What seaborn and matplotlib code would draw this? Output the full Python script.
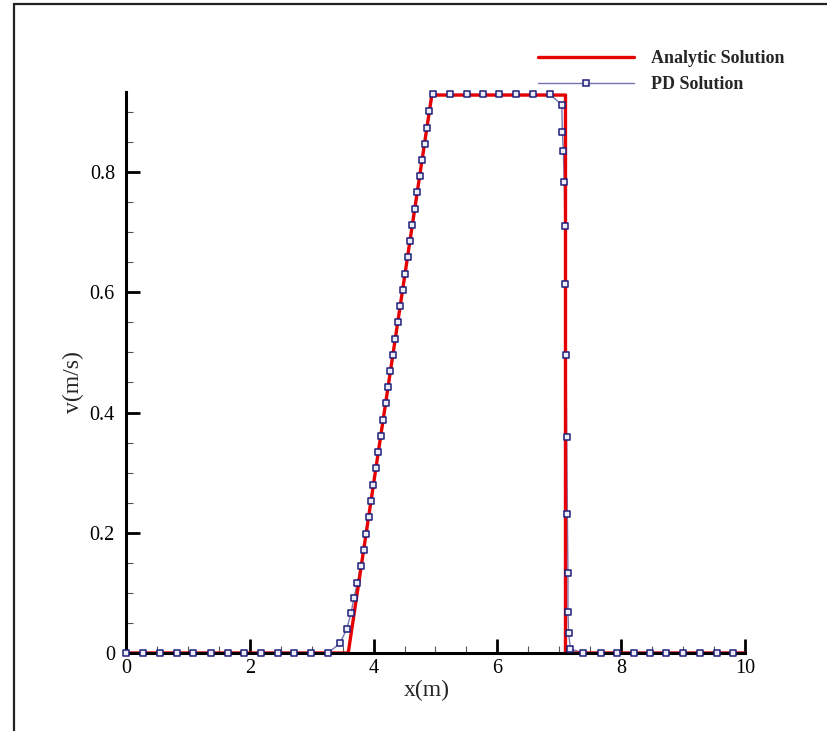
import matplotlib
matplotlib.use("Agg")
import matplotlib.pyplot as plt
from matplotlib.lines import Line2D
from matplotlib.ticker import MultipleLocator
import seaborn as sns
import pandas as pd

# Analytic velocity profile (m, m/s)
x_analytic = [0.0, 3.59, 4.94, 7.10, 7.10, 10.0]
v_analytic = [0.0, 0.0, 0.928, 0.928, 0.0, 0.0]

# Peridynamic solution, sampled points
x_pd = [0.00, 0.28, 0.55, 0.82, 1.09, 1.37, 1.64, 1.91, 2.18, 2.45, 2.72, 2.99, 3.26,
        3.457, 3.565, 3.635, 3.683, 3.737, 3.790,
        3.839, 3.878, 3.919, 3.958, 3.998, 4.037, 4.076, 4.115, 4.155, 4.194,
        4.233, 4.273, 4.312, 4.351, 4.391, 4.430, 4.469, 4.508, 4.548, 4.587,
        4.626, 4.666, 4.705, 4.744, 4.784, 4.823, 4.862, 4.902, 4.960,
        5.234, 5.504, 5.773, 6.030, 6.300, 6.570, 6.850,
        7.040, 7.050, 7.065, 7.080, 7.090, 7.100, 7.110, 7.120, 7.130, 7.140, 7.140, 7.150, 7.180,
        7.38, 7.67, 7.93, 8.20, 8.47, 8.73, 9.00, 9.27, 9.54, 9.81]
v_pd = [0.0, 0.0, 0.0, 0.0, 0.0, 0.0, 0.0, 0.0, 0.0, 0.0, 0.0, 0.0, 0.0,
        0.016, 0.040, 0.066, 0.092, 0.116, 0.144,
        0.171, 0.198, 0.226, 0.253, 0.280, 0.307, 0.334, 0.361, 0.388, 0.415,
        0.442, 0.469, 0.496, 0.523, 0.550, 0.577, 0.604, 0.631, 0.658, 0.685,
        0.712, 0.739, 0.766, 0.793, 0.820, 0.847, 0.874, 0.901, 0.929,
        0.929, 0.929, 0.929, 0.929, 0.929, 0.929, 0.929,
        0.912, 0.867, 0.835, 0.784, 0.710, 0.614, 0.496, 0.360, 0.232, 0.133, 0.069, 0.033, 0.007,
        0.0, 0.0, 0.0, 0.0, 0.0, 0.0, 0.0, 0.0, 0.0, 0.0]

x_ticks = [0, 2, 4, 6, 8, 10]
y_ticks = [0, 0.2, 0.4, 0.6, 0.8]
y_tick_labels = ["0", "0.2", "0.4", "0.6", "0.8"]

analytic = pd.DataFrame({"x": x_analytic, "v": v_analytic})
pdsol = pd.DataFrame({"x": x_pd, "v": v_pd})

sns.set_style("ticks")
plt.rcParams["font.family"] = ["Liberation Serif", "DejaVu Serif"]

RED = "#e60000"
NAVY = "#1f1f7a"
LINE_BLUE = "#7474b0"
FILL = "#eeeef8"

W, H = 828, 731
fig = plt.figure(figsize=(W / 100, H / 100), dpi=100)
ax = fig.add_axes([126 / W, 1 - 653 / H, (745 - 126) / W, (653 - 92) / H])

sns.lineplot(data=pdsol, x="x", y="v", sort=False, estimator=None, ax=ax,
             color=LINE_BLUE, linewidth=1.0, zorder=2)
sns.lineplot(data=analytic, x="x", y="v", sort=False, estimator=None, ax=ax,
             color=RED, linewidth=2.4, zorder=3)
sns.scatterplot(data=pdsol, x="x", y="v", ax=ax, marker="s", s=17,
                facecolor=FILL, edgecolor=NAVY, linewidth=1.1,
                zorder=5, clip_on=False)

ax.set_xlim(0, 10)
ax.set_ylim(0, 0.9331)
ax.set_xticks(x_ticks)
ax.set_xticklabels([str(t) for t in x_ticks])
ax.set_yticks(y_ticks)
ax.set_yticklabels(y_tick_labels)
ax.xaxis.set_minor_locator(MultipleLocator(0.5))
ax.yaxis.set_minor_locator(MultipleLocator(0.05))

for side in ("top", "right"):
    ax.spines[side].set_visible(False)
for side in ("left", "bottom"):
    ax.spines[side].set_linewidth(2.2)
    ax.spines[side].set_color("black")
    ax.spines[side].set_zorder(4)

ax.tick_params(which="major", direction="in", length=10, width=2.0, labelsize=14.5, colors="black")
ax.tick_params(which="minor", direction="in", length=5, width=0.8, colors="#555555")
ax.tick_params(axis="x", which="major", pad=4)
ax.tick_params(axis="y", which="major", pad=8)

ax.set_xlabel("x(m)", fontsize=17)
ax.set_ylabel("v(m/s)", fontsize=17)
ax.xaxis.set_label_coords((427 - 126) / (745 - 126), -(680 - 653) / (653 - 92))
ax.yaxis.set_label_coords(-(126 - 84) / (745 - 126), (653 - 382) / (653 - 92))
ax.set_facecolor("white")

handles = [
    Line2D([], [], color=RED, linewidth=2.4),
    Line2D([], [], color=LINE_BLUE, linewidth=1.0, marker="s", markersize=4.2,
           markerfacecolor=FILL, markeredgecolor=NAVY, markeredgewidth=1.1),
]
fig.legend(handles, ["Analytic Solution", "PD Solution"], loc="upper left",
           bbox_to_anchor=(538 / W, 1 - 50 / H), frameon=False,
           prop={"family": "Liberation Serif", "weight": "bold", "size": 13},
           handlelength=5.3, handletextpad=0.95, labelspacing=0.5,
           borderpad=0, borderaxespad=0, markerscale=1.0)

# outer frame lines (left and top edges)
fig.add_artist(Line2D([14 / W, 14 / W], [0, 1 - 4 / H], transform=fig.transFigure,
                      color="#222222", linewidth=1.6))
fig.add_artist(Line2D([14 / W, 1], [1 - 4 / H, 1 - 4 / H], transform=fig.transFigure,
                      color="#222222", linewidth=1.6))

fig.savefig("out.png", dpi=100, facecolor="white")
